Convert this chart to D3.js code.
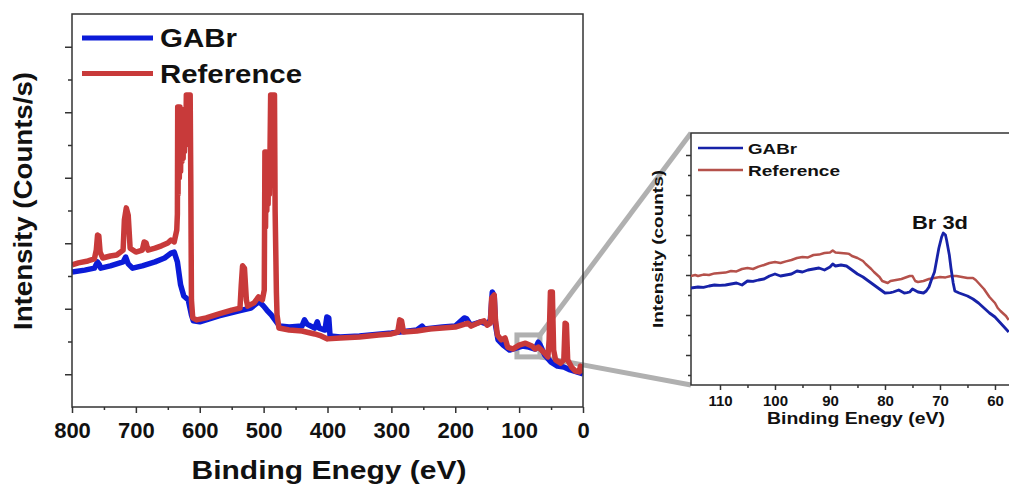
<!DOCTYPE html>
<meta charset="utf-8">
<style>
  html,
  body {
    margin: 0;
    background-color: #fff;
  }

  svg text {
    font-family: "Liberation Sans", Arial, sans-serif;
    font-weight: bold;
    fill: #111;
  }

  .axis path {
    display: none;
  }

  .axis line {
    stroke: #333;
    stroke-width: 1.5;
  }
</style>

<body>
  <script src="https://cdnjs.cloudflare.com/ajax/libs/d3/7.8.5/d3.min.js"></script>
  <script>
    // survey spectra: [binding energy (eV), intensity (a.u.)]
    var gabrSurvey = [[800,4.12],[780,4.18],[765,4.24],[760,4.43],[757,4.34],[755,4.24],[740,4.31],[720,4.43],[716,4.58],[712,4.37],
      [705,4.24],[690,4.31],[670,4.43],[655,4.55],[645,4.70],[640,4.73],[635,4.43],[630,3.73],[625,3.39],[618,3.27],
      [613,2.81],[610,2.63],[600,2.60],[570,2.78],[540,2.93],[520,3.02],[510,3.18],[505,3.18],[500,3.08],[495,2.96],
      [488,2.81],[480,2.60],[475,2.47],[460,2.44],[440,2.47],[436,2.66],[432,2.53],[420,2.41],[416,2.60],[413,2.41],
      [404,2.35],[401,2.75],[398,2.72],[396,2.17],[380,2.14],[350,2.17],[300,2.26],[260,2.35],[252,2.47],[248,2.38],
      [220,2.44],[200,2.47],[186,2.72],[182,2.69],[176,2.50],[160,2.60],[150,2.53],[145,2.66],[142,3.51],[139,3.39],
      [137,2.50],[133,2.05],[125,1.89],[115,1.74],[105,1.80],[95,1.86],[85,1.83],[75,1.77],[70,1.98],[67,1.89],
      [60,1.59],[50,1.37],[40,1.25],[30,1.22],[20,1.13],[10,1.07],[0,1.01]];

    var referenceSurvey = [[800,4.34],[790,4.40],[775,4.46],[765,4.52],[762,4.79],[760,5.25],[758,5.22],[756,4.73],[752,4.55],[740,4.61],
      [730,4.64],[720,4.79],[718,5.71],[715,6.08],[712,5.86],[709,4.85],[700,4.73],[690,4.79],[687,5.04],[684,5.01],
      [681,4.79],[670,4.85],[660,4.92],[650,5.01],[645,5.10],[640,5.04],[636,5.40],[635,5.90],[634.5,9.16],[634,6.50],
      [633,9.16],[632,7.00],[631,9.16],[630,7.20],[629,9.10],[628,7.50],[627,9.00],[626,7.60],[625,8.76],[624,7.80],
      [623,8.60],[622,8.00],[621,9.53],[620,8.20],[619,9.53],[618,8.50],[617,9.53],[616,8.30],[615,9.53],[614,6.90],
      [613.5,5.00],[613,3.27],[611,2.72],[605,2.66],[590,2.72],[570,2.84],[550,2.96],[537,3.02],[535,3.73],[533,4.31],
      [530,4.24],[527,3.27],[525,3.08],[515,3.18],[508,3.36],[502,3.27],[499,3.57],[498,7.79],[497,5.50],[496,7.79],
      [495,6.00],[494,7.79],[493,6.20],[492,7.79],[491,6.50],[490,7.79],[489,9.53],[488,7.50],[487,9.53],[486,7.80],
      [485,9.53],[484,8.00],[483,9.53],[482,6.00],[481,4.79],[480,3.50],[479,2.81],[476,2.41],[460,2.35],[440,2.32],
      [420,2.23],[410,2.17],[400,2.08],[380,2.11],[350,2.14],[320,2.20],[300,2.23],[290,2.29],[287,2.66],[284,2.63],
      [281,2.29],[260,2.32],[240,2.38],[220,2.41],[200,2.44],[185,2.53],[180,2.56],[175,2.47],[160,2.60],[155,2.63],
      [150,2.50],[145,2.56],[143,3.33],[139,3.42],[137,2.66],[134,2.20],[128,2.05],[122,2.11],[118,1.83],[110,1.77],
      [100,1.89],[90,1.95],[80,1.86],[75,1.77],[70,1.83],[62,1.68],[55,1.53],[53,2.05],[51,3.51],[48,3.51],
      [46,1.74],[43,1.44],[35,1.34],[30,1.44],[28,2.56],[26,2.53],[24,1.44],[18,1.22],[12,1.10],[6,1.07],
      [4,1.25],[2,1.19],[0,1.04]];

    // Br 3d window: [binding energy (eV), intensity (a.u.)]
    var gabrBr3d = [[115.3,4.35],[114,4.40],[113,4.38],[112,4.45],[111,4.50],[110,4.48],[109,4.50],[108,4.55],[107,4.60],[106,4.50],
      [105,4.70],[104,4.68],[103,4.75],[102,4.80],[101,4.95],[100,5.05],[99,4.95],[98,5.00],[97,5.05],[96,5.20],
      [95,5.15],[94,5.25],[93,5.30],[92,5.35],[91,5.25],[90,5.40],[89.5,5.55],[89,5.45],[88,5.50],[87,5.45],
      [86.5,5.35],[86,5.25],[85,5.05],[84,4.90],[83,4.70],[82,4.50],[81,4.30],[80,4.10],[79,4.12],[78.5,4.15],
      [77.5,4.25],[76.5,4.10],[76,4.12],[75.5,4.15],[75,4.30],[74,4.15],[73,4.10],[72.5,4.20],[72,4.40],[71.5,4.80],
      [71,5.15],[70.5,5.90],[70.2,6.35],[69.7,6.90],[69.4,7.10],[69,7.00],[68.8,6.75],[68.3,6.00],[68,5.35],[67.6,4.60],
      [67.3,4.20],[66.5,4.10],[66,4.05],[65,3.95],[64,3.80],[63,3.60],[62,3.35],[61,3.10],[60,2.90],[59,2.60],
      [58,2.30],[57.5,2.15]];

    var referenceBr3d = [[115.3,4.95],[114.5,5.00],[114,4.95],[113,5.02],[112,5.00],[111,5.08],[110,5.10],[109,5.12],[108,5.20],[107,5.18],
      [106,5.30],[105,5.35],[104,5.30],[103,5.42],[102,5.50],[101,5.60],[100,5.65],[99,5.60],[98,5.68],[97,5.75],
      [96,5.85],[95,5.90],[94,5.88],[93,6.00],[92,6.02],[91,6.10],[90,6.12],[89.5,6.22],[89,6.12],[88,6.10],
      [87,6.08],[86.5,6.05],[86,5.95],[85,5.85],[84,5.70],[83.5,5.55],[82.5,5.30],[82,5.15],[81,4.90],[80.5,4.70],
      [80,4.65],[79.5,4.60],[79,4.70],[78,4.75],[77,4.80],[76,4.90],[75.5,4.95],[75,4.95],[74.5,4.70],[74,4.65],
      [73,4.70],[72,4.80],[71,4.85],[70,4.90],[69,4.88],[68,4.95],[67,4.95],[66,4.90],[65,4.85],[64,4.85],
      [63.5,4.75],[63,4.60],[62,4.30],[61.5,4.10],[61,3.90],[60,3.60],[59.5,3.35],[59,3.20],[58,2.95],[57.5,2.75]];

    var seriesNames = ["GABr", "Reference"];
    var surveyTicks = [0, 100, 200, 300, 400, 500, 600, 700, 800];
    var br3dTicks = [110, 100, 90, 80, 70, 60];
    var zoomWindow = [103.4, 67.4, 1.53, 2.2]; // eV from, eV to, intensity low, high

    var svg = d3.select("body").append("svg")
      .attr("width", 1009)
      .attr("height", 486);

    // set the ranges
    var x = d3.scaleLinear().domain([800, 0]).range([72, 583]);
    var y = d3.scaleLinear().domain([0, 12]).range([407, 14]);
    var xi = d3.scaleLinear().domain([115.27, 57.45]).range([691, 1009]);
    var yi = d3.scaleLinear().domain([-0.5, 12.1]).range([385, 133]);

    var line = d3.line().x(function (d) { return x(d[0]); }).y(function (d) { return y(d[1]); });
    var lineInset = d3.line().x(function (d) { return xi(d[0]); }).y(function (d) { return yi(d[1]); });

    svg.append("clipPath").attr("id", "clipMain")
      .append("rect").attr("x", 72).attr("y", 14).attr("width", 511).attr("height", 393);
    svg.append("clipPath").attr("id", "clipInset")
      .append("rect").attr("x", 691).attr("y", 133).attr("width", 330).attr("height", 252);

    // grey zoom box + connectors (under the data)
    var grey = svg.append("g").attr("fill", "none").attr("stroke", "#b0b0b0").attr("stroke-width", 5);
    grey.append("rect")
      .attr("x", x(zoomWindow[0])).attr("y", y(zoomWindow[3]))
      .attr("width", x(zoomWindow[1]) - x(zoomWindow[0]))
      .attr("height", y(zoomWindow[2]) - y(zoomWindow[3]));
    grey.append("line")
      .attr("x1", x(zoomWindow[1])).attr("y1", y(zoomWindow[3]))
      .attr("x2", xi.range()[0]).attr("y2", yi.range()[1]);
    grey.append("line")
      .attr("x1", x(zoomWindow[1])).attr("y1", y(zoomWindow[2]))
      .attr("x2", xi.range()[0]).attr("y2", yi.range()[0]);

    // survey lines
    var plot = svg.append("g").attr("clip-path", "url(#clipMain)")
      .attr("fill", "none").attr("stroke-linejoin", "round");
    plot.append("path").datum(gabrSurvey).attr("d", line)
      .attr("stroke", "#0b1bd8").attr("stroke-width", 5.5);
    plot.append("path").datum(referenceSurvey).attr("d", line)
      .attr("stroke", "#c83a3a").attr("stroke-width", 5.5);

    // frame
    svg.append("rect").attr("x", 72).attr("y", 14).attr("width", 511).attr("height", 393)
      .attr("fill", "none").attr("stroke", "#333").attr("stroke-width", 1.5);

    // add the x Axis
    var gx = svg.append("g").attr("class", "axis").attr("transform", "translate(0,407)")
      .call(d3.axisBottom(x).tickValues(surveyTicks).tickSize(6).tickPadding(9).tickFormat(d3.format("d")));
    gx.selectAll("text").style("font-size", "22px");
    svg.append("g").attr("class", "axis").attr("transform", "translate(0,407)")
      .call(d3.axisBottom(x).tickValues(d3.range(50, 800, 100)).tickSize(3).tickFormat(""));

    // add the y Axis (no labels)
    svg.append("g").attr("class", "axis").attr("transform", "translate(72,0)")
      .call(d3.axisLeft(y).tickValues([1, 3, 5, 7, 9, 11]).tickSize(7).tickFormat(""));
    svg.append("g").attr("class", "axis").attr("transform", "translate(72,0)")
      .call(d3.axisLeft(y).tickValues([2, 4, 6, 8, 10]).tickSize(4).tickFormat(""));

    // axis titles
    svg.append("text")
      .attr("x", 329).attr("y", 479)
      .style("text-anchor", "middle").style("font-size", "26px")
      .attr("textLength", 275).attr("lengthAdjust", "spacingAndGlyphs")
      .text("Binding Enegy  (eV)");
    svg.append("text")
      .attr("transform", "translate(32,201) rotate(-90)")
      .style("text-anchor", "middle").style("font-size", "25px")
      .attr("textLength", 258).attr("lengthAdjust", "spacingAndGlyphs")
      .text("Intensity (Counts/s)");

    // legend
    var colours = ["#0b1bd8", "#c83a3a"];
    var legendW = [77, 142];
    seriesNames.forEach(function (name, i) {
      var ly = 38 + i * 35.5;
      svg.append("line").attr("x1", 82).attr("x2", 153).attr("y1", ly).attr("y2", ly)
        .attr("stroke", colours[i]).attr("stroke-width", 5);
      svg.append("text").attr("x", 160).attr("y", ly + 9)
        .style("font-size", "25px")
        .attr("textLength", legendW[i]).attr("lengthAdjust", "spacingAndGlyphs")
        .text(name);
    });

    // ---- inset: Br 3d ----
    svg.append("rect").attr("x", 691).attr("y", 133).attr("width", 330).attr("height", 252)
      .attr("fill", "#fff").attr("stroke", "#333").attr("stroke-width", 1.5);

    var inset = svg.append("g").attr("clip-path", "url(#clipInset)")
      .attr("fill", "none").attr("stroke-linejoin", "round");
    inset.append("path").datum(referenceBr3d).attr("d", lineInset)
      .attr("stroke", "#b5514b").attr("stroke-width", 2.5);
    inset.append("path").datum(gabrBr3d).attr("d", lineInset)
      .attr("stroke", "#1722a8").attr("stroke-width", 2.8);

    var gxi = svg.append("g").attr("class", "axis").attr("transform", "translate(0,385)")
      .call(d3.axisBottom(xi).tickValues(br3dTicks).tickSize(5).tickPadding(5).tickFormat(d3.format("d")));
    gxi.selectAll("text").style("font-size", "15px");
    svg.append("g").attr("class", "axis").attr("transform", "translate(0,385)")
      .call(d3.axisBottom(xi).tickValues([105, 95, 85, 75, 65]).tickSize(3).tickFormat(""));
    svg.append("g").attr("class", "axis").attr("transform", "translate(691,0)")
      .call(d3.axisLeft(yi).tickValues([1, 3, 5, 7, 9, 11]).tickSize(5).tickFormat(""));
    svg.append("g").attr("class", "axis").attr("transform", "translate(691,0)")
      .call(d3.axisLeft(yi).tickValues([0, 2, 4, 6, 8, 10]).tickSize(3).tickFormat(""));

    svg.append("text")
      .attr("x", 856).attr("y", 424)
      .style("text-anchor", "middle").style("font-size", "16px")
      .attr("textLength", 178).attr("lengthAdjust", "spacingAndGlyphs")
      .text("Binding Enegy (eV)");
    svg.append("text")
      .attr("transform", "translate(663,249) rotate(-90)")
      .style("text-anchor", "middle").style("font-size", "15px")
      .attr("textLength", 158).attr("lengthAdjust", "spacingAndGlyphs")
      .text("Intensity (counts)");

    // inset legend
    var insetColours = ["#1722a8", "#b5514b"];
    var insetW = [49, 92];
    seriesNames.forEach(function (name, i) {
      var ly = 148 + i * 22;
      svg.append("line").attr("x1", 698).attr("x2", 743).attr("y1", ly).attr("y2", ly)
        .attr("stroke", insetColours[i]).attr("stroke-width", 2.5);
      svg.append("text").attr("x", 748).attr("y", ly + 5.5)
        .style("font-size", "15px")
        .attr("textLength", insetW[i]).attr("lengthAdjust", "spacingAndGlyphs")
        .text(name);
    });

    // peak label
    svg.append("text").attr("x", 912).attr("y", 229)
      .style("font-size", "19px")
      .attr("textLength", 56).attr("lengthAdjust", "spacingAndGlyphs")
      .text("Br 3d");
  </script>
</body>
